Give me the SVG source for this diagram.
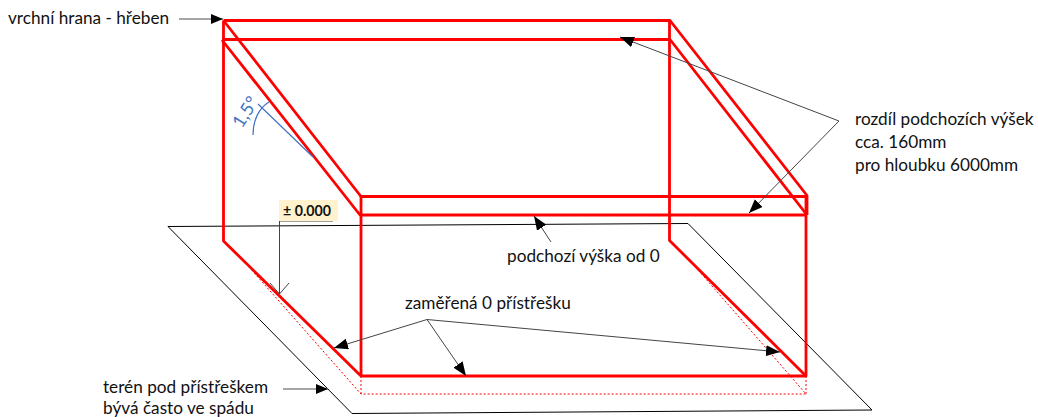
<svg xmlns="http://www.w3.org/2000/svg" width="1038" height="417" viewBox="0 0 1038 417">
<style>
text{font-family:Lato,"Open Sans","Liberation Sans",sans-serif;font-size:17.2px;fill:#111}
.r{fill:none;stroke:#ff0000;stroke-width:2.8;stroke-linejoin:round}
.d{fill:none;stroke:#ff0000;stroke-width:1;stroke-dasharray:2 2}
.k{fill:none;stroke:#000;stroke-width:1}
.g{fill:none;stroke:#444;stroke-width:1}
.a{fill:none;stroke:#444;stroke-width:1;marker-end:url(#ah)}
.a2{fill:none;stroke:#888;stroke-width:1.5;marker-end:url(#ah2)}
.b{fill:none;stroke:#4472c4;stroke-width:1.2}
</style>
<defs>
<marker id="ah" markerUnits="userSpaceOnUse" viewBox="0 0 14 11" refX="14" refY="5.5" markerWidth="14" markerHeight="11" orient="auto"><path d="M0 0L14 5.5L0 11Z" fill="#000"/></marker>
<marker id="ah2" markerUnits="userSpaceOnUse" viewBox="0 0 12 10" refX="12" refY="5" markerWidth="12" markerHeight="10" orient="auto"><path d="M0 0L12 5L0 10Z" fill="#000"/></marker>
</defs>
<g id="terrain"><path class="k" d="M168 226.5L688 223.5L872 410L352 413.5Z"/></g>
<g id="footprint"><path class="d" d="M241 258L361 394H806L692 263M361 376V394M806 376V394"/></g>
<g id="frame">
<path class="r" d="M223.5 20.5H670L807 195.5V215"/>
<path class="r" d="M222 39.5H670L807 215"/>
<path class="r" d="M222 40L360 215H807"/>
<path class="r" d="M223.5 20.5L361 196.5H807"/>
<path class="r" d="M223.5 20.5V241L361 376H806V196"/>
<path class="r" d="M361 196V376M669.5 20.5V240.5L806 376"/>
</g>
<g id="angle">
<path class="b" d="M258 104L313 157M253 135C253 120 259 108 269 102"/>
<text transform="translate(242 129) rotate(-58)" style="fill:#4472c4;font-size:18px">1,5°</text>
</g>
<g id="connectors">
<path class="a2" d="M179 19H223"/>
<path class="a2" d="M283 389H328"/>
<path class="g" d="M279 221H333"/>
<path class="g" d="M279.5 221V294M270 283L279.5 294L289 283"/>
<path class="a" d="M427 319.5L334 348"/>
<path class="a" d="M427 319.5L466 376"/>
<path class="a" d="M427 319.5L780 352"/>
<path class="a" d="M839 121L620 37"/>
<path class="a" d="M839 121L749 213"/>
<path class="a" d="M551 242L534 216"/>
</g>
<g id="label-top"><text x="8" y="24">vrchní hrana - hřeben</text></g>
<g id="label-zero"><rect x="279" y="200" width="59" height="21" fill="#fff2cc"/><text x="283" y="216" style="font-size:14.2px;font-weight:700">± 0.000</text></g>
<g id="label-diff"><text x="855" y="125">rozdíl podchozích výšek</text><text x="855" y="148">cca. 160mm</text><text x="855" y="171">pro hloubku 6000mm</text></g>
<g id="label-height"><text x="507" y="262">podchozí výška od 0</text></g>
<g id="label-zero-measured"><text x="405" y="309">zaměřená 0 přístřešku</text></g>
<g id="label-terrain"><text x="103" y="393">terén pod přístřeškem</text><text x="103" y="414">bývá často ve spádu</text></g>
</svg>
